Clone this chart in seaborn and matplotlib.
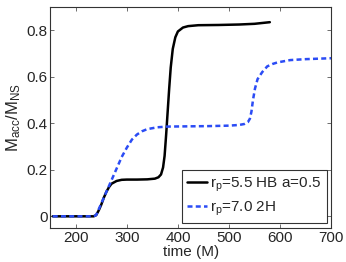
import pandas as pd
import numpy as np
import matplotlib
matplotlib.use('Agg')
import matplotlib.pyplot as plt
import seaborn as sns

# Black curve: r_p=5.5 HB a=0.5
t_hb = [155, 200, 235, 240, 245, 250, 255, 260, 265, 270, 280, 290, 300, 320, 340,
        355, 362, 367, 371, 374, 377, 380, 383, 386, 390, 395, 400, 410, 420, 440,
        480, 520, 550, 580]
m_hb = [0, 0, 0, 0.005, 0.025, 0.05, 0.08, 0.105, 0.125, 0.14, 0.152, 0.157, 0.158,
        0.158, 0.159, 0.162, 0.168, 0.18, 0.21, 0.26, 0.35, 0.45, 0.55, 0.64, 0.72,
        0.77, 0.795, 0.812, 0.818, 0.822, 0.823, 0.825, 0.828, 0.835]

# Blue dashed curve: r_p=7.0 2H
t_2h = [155, 200, 235, 240, 245, 250, 255, 260, 265, 270, 275, 280, 290, 300, 310,
        320, 330, 340, 360, 380, 420, 460, 500, 520, 530, 537, 541, 544, 547, 551,
        556, 565, 575, 585, 595, 620, 650, 700]
m_2h = [0, 0, 0, 0.005, 0.03, 0.055, 0.08, 0.105, 0.13, 0.155, 0.18, 0.205, 0.255,
        0.295, 0.33, 0.352, 0.366, 0.375, 0.383, 0.386, 0.387, 0.388, 0.39, 0.393,
        0.397, 0.405, 0.42, 0.45, 0.5, 0.55, 0.59, 0.62, 0.645, 0.655, 0.662, 0.672,
        0.676, 0.68]

lab_hb = 'r$_p$=5.5 HB a=0.5'
lab_2h = 'r$_p$=7.0 2H'

df = pd.concat([
    pd.DataFrame({'time': t_hb, 'macc': m_hb, 'run': lab_hb}),
    pd.DataFrame({'time': t_2h, 'macc': m_2h, 'run': lab_2h}),
])

sns.set_style('white')
plt.rcParams['font.family'] = ['Liberation Sans', 'DejaVu Sans']
plt.rcParams['mathtext.default'] = 'regular'
plt.rcParams['xtick.direction'] = 'in'
plt.rcParams['ytick.direction'] = 'in'

fig, ax = plt.subplots(figsize=(3.46, 2.62), dpi=100)
sns.lineplot(data=df, x='time', y='macc', hue='run', style='run',
             palette={lab_hb: 'black', lab_2h: '#2b4cf5'},
             dashes={lab_hb: '', lab_2h: (2, 1.3)}, linewidth=1.8, ax=ax, sort=False)

ax.set_xlim(150, 700)
ax.set_ylim(-0.05, 0.9)
ax.set_xticks([200, 300, 400, 500, 600, 700])
ax.set_yticks([0, 0.2, 0.4, 0.6, 0.8])
ax.set_yticklabels(['0', '0.2', '0.4', '0.6', '0.8'])
ax.tick_params(labelsize=11, length=3, width=0.6, top=True, right=True,
               left=True, bottom=True, pad=2, color='#555555')
for s in ax.spines.values():
    s.set_linewidth(0.8)
    s.set_color('#333333')
ax.set_xlabel('time (M)', fontsize=11, labelpad=0)
ax.set_ylabel('M$_{acc}$/M$_{NS}$', fontsize=12, labelpad=2)

leg = ax.legend(loc='lower right', fontsize=11, frameon=True, fancybox=False,
                edgecolor='black', handlelength=1.3, borderaxespad=0.3,
                labelspacing=0.4, handletextpad=0.2, borderpad=0.35)
leg.get_frame().set_linewidth(0.8)

plt.subplots_adjust(left=0.145, right=0.957, top=0.973, bottom=0.13)
plt.savefig('out.png', dpi=100)
